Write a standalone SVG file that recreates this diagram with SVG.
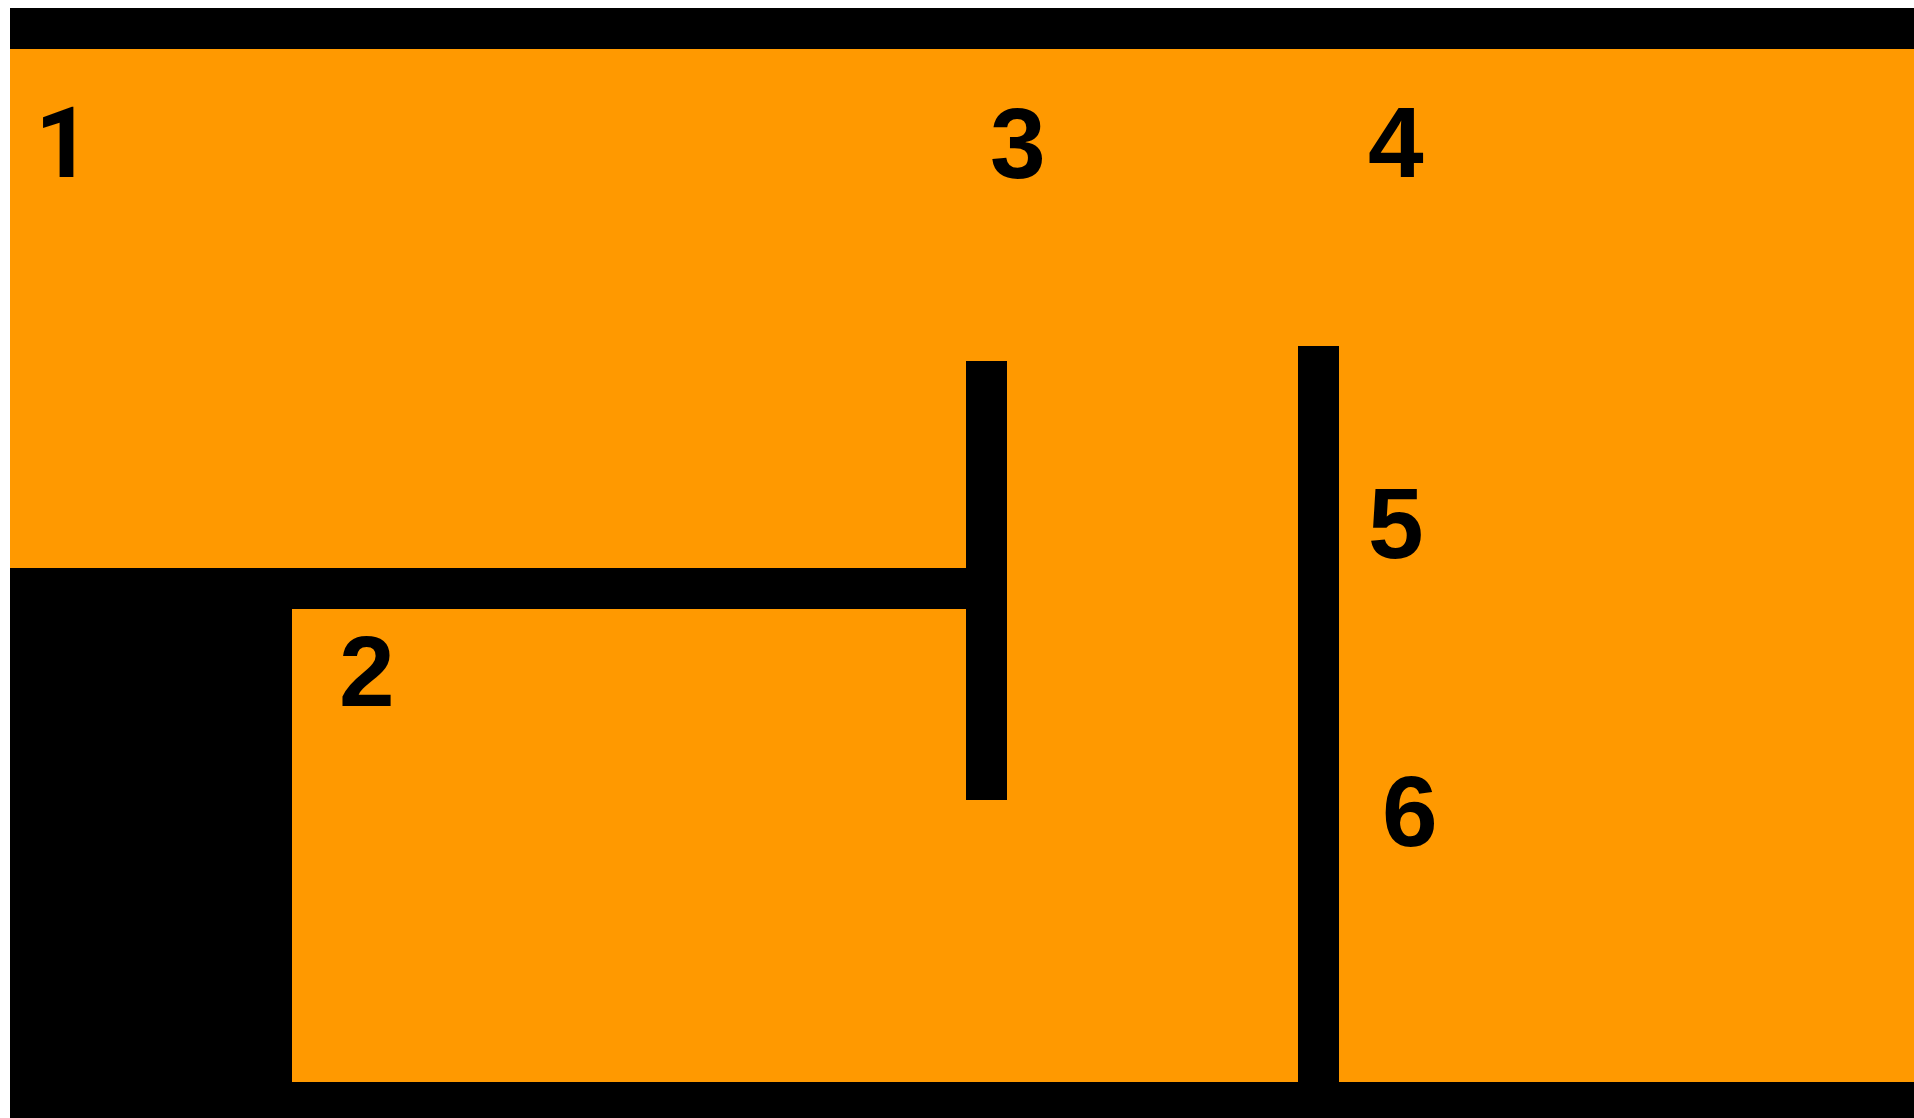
<svg xmlns="http://www.w3.org/2000/svg" width="1914" height="1118" viewBox="0 0 1914 1118">
<style>
.wall{fill:#000000}
.room{fill:#FF9900}
.num{font-family:"Liberation Sans",Arial,sans-serif;font-weight:bold;font-size:100px;fill:#000000}
.one{font-family:Roboto,"Liberation Sans",Arial,sans-serif;font-size:98px}
</style>
<rect x="0" y="0" width="1914" height="1118" fill="#FFFFFF"/>
<g id="plan">
<rect class="room" x="10" y="49" width="1904" height="1033"/>
<rect id="wall-top" class="wall" x="10" y="8" width="1904" height="41"/>
<rect id="wall-bottom" class="wall" x="10" y="1082" width="1904" height="36"/>
<rect id="block-left" class="wall" x="10" y="568" width="282" height="514"/>
<rect id="wall-h" class="wall" x="10" y="568" width="997" height="41"/>
<rect id="wall-v3" class="wall" x="966" y="361" width="41" height="439"/>
<rect id="wall-v4" class="wall" x="1298" y="346" width="41" height="736"/>
</g>
<g id="labels">
<text id="label-1" class="num one" x="35" y="177">1</text>
<text id="label-2" class="num" x="339" y="706">2</text>
<text id="label-3" class="num" x="990" y="178">3</text>
<text id="label-4" class="num" x="1368" y="177">4</text>
<text id="label-5" class="num" x="1368" y="558">5</text>
<text id="label-6" class="num" x="1382" y="846">6</text>
</g>
</svg>
